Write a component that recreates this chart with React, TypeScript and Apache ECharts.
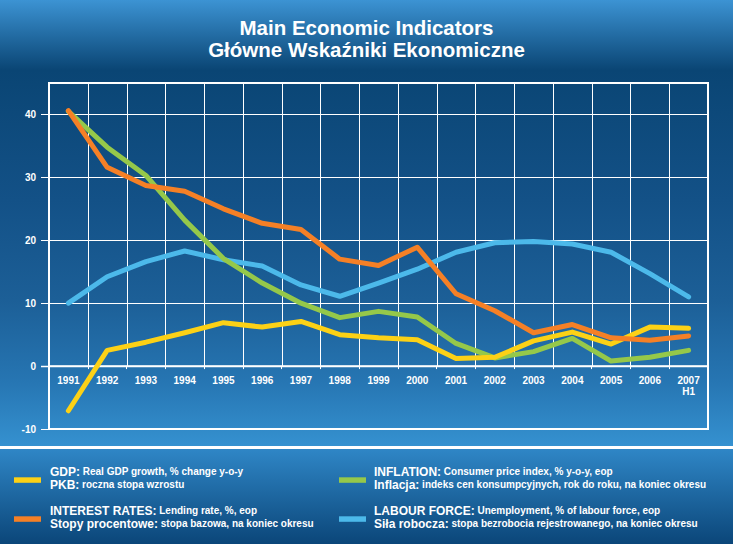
import React, { useEffect, useRef } from "react";
import * as echarts from "echarts";

// ---- data ----
const years = ["1991", "1992", "1993", "1994", "1995", "1996", "1997", "1998", "1999", "2000", "2001", "2002", "2003", "2004", "2005", "2006", "2007\nH1"];
const gdp = [-7.1, 2.5, 3.8, 5.3, 6.9, 6.2, 7.1, 5.0, 4.5, 4.2, 1.2, 1.4, 4.0, 5.4, 3.5, 6.2, 6.0];
const inflation = [40.5, 34.8, 30.3, 23.2, 17.1, 13.2, 10.0, 7.7, 8.7, 7.8, 3.6, 1.3, 2.3, 4.4, 0.8, 1.4, 2.5];
const interestRates = [40.6, 31.6, 28.7, 27.8, 25.0, 22.7, 21.7, 17.0, 16.0, 18.9, 11.5, 8.8, 5.3, 6.6, 4.5, 4.1, 4.8];
const unemployment = [10.0, 14.2, 16.6, 18.3, 16.9, 15.9, 12.9, 11.1, 13.2, 15.4, 18.1, 19.6, 19.8, 19.4, 18.1, 14.7, 11.0];
const yTicks = [-10, 0, 10, 20, 30, 40];
const yMin = -10;
const yMax = 45;

const titleLines = ["Main Economic Indicators", "Główne Wskaźniki Ekonomiczne"];

const legendGdp = [["GDP:", " Real GDP growth, % change y-o-y"], ["PKB:", " roczna stopa wzrostu"]];
const legendRates = [["INTEREST RATES:", " Lending rate, %, eop"], ["Stopy procentowe:", " stopa bazowa, na koniec okresu"]];
const legendInflation = [["INFLATION:", " Consumer price index, % y-o-y, eop"], ["Inflacja:", " indeks cen konsumpcyjnych, rok do roku, na koniec okresu"]];
const legendLabour = [["LABOUR FORCE:", " Unemployment, % of labour force, eop"], ["Siła robocza:", " stopa bezrobocia rejestrowanego, na koniec okresu"]];

// ---- styles / layout ----
const YELLOW = "#fcd116";
const GREEN = "#95c84a";
const ORANGE = "#f58026";
const BLUE = "#4cb9ea";
const FONT = '"Liberation Sans", Arial, Helvetica, sans-serif';
const W = 733;
const H = 544;
const GRID_TOP = 83;
const GRID_BOTTOM = 115;
const GRID_LEFT = 49;
const GRID_RIGHT = 25;
const PLOT_H = H - GRID_TOP - GRID_BOTTOM;
const X_AXIS_OFFSET = -((0 - yMin) / (yMax - yMin)) * PLOT_H;

function legendBlock(lines: string[][], color: string, x: number, y: number, markerX: number) {
  const els: any[] = [
    {
      type: "rect",
      shape: { x: markerX, y: y + 5.5, width: 27, height: 5.5 },
      style: { fill: color },
    },
  ];
  lines.forEach((ln, i) => {
    els.push({
      type: "text",
      x,
      y: y + i * 13,
      style: {
        text: `{h|${ln[0]}}{t|${ln[1]}}`,
        fill: "#fff",
        align: "left",
        verticalAlign: "middle",
        rich: {
          h: { fontSize: 12, fontWeight: "bold", fontFamily: FONT, fill: "#fff", lineHeight: 14 },
          t: { fontSize: 10, fontWeight: "bold", fontFamily: FONT, fill: "#fff", lineHeight: 14 },
        },
      },
    });
  });
  return els;
}

export default function App() {
  const ref = useRef<HTMLDivElement>(null);
  useEffect(() => {
    if (!ref.current) return;
    const chart = echarts.init(ref.current, undefined, { renderer: "svg" });
    const lineSeries = (name: string, data: number[], color: string) => ({
      name,
      type: "line",
      data,
      symbol: "none",
      showSymbol: false,
      z: 3,
      lineStyle: { color, width: 5, cap: "round", join: "round" },
      itemStyle: { color },
    });
    chart.setOption({
      animation: false,
      backgroundColor: "transparent",
      grid: {
        left: GRID_LEFT,
        right: GRID_RIGHT,
        top: GRID_TOP,
        bottom: GRID_BOTTOM,
        show: true,
        borderColor: "#ffffff",
        borderWidth: 2,
        backgroundColor: "transparent",
        containLabel: false,
      },
      xAxis: {
        type: "category",
        data: years,
        boundaryGap: true,
        position: "bottom",
        offset: X_AXIS_OFFSET,
        axisLine: { onZero: false, lineStyle: { color: "#ffffff", width: 1.5 } },
        axisTick: { show: true, length: 3, lineStyle: { color: "#ffffff", width: 1 } },
        axisLabel: {
          interval: 0,
          color: "#ffffff",
          fontSize: 10,
          fontWeight: "bold",
          fontFamily: FONT,
          margin: 9,
          lineHeight: 11,
        },
        splitLine: { show: false },
      },
      yAxis: {
        type: "value",
        min: yMin,
        max: yMax,
        interval: 10,
        axisLine: { show: false },
        axisTick: { show: false },
        axisLabel: {
          customValues: yTicks,
          color: "#ffffff",
          fontSize: 10,
          fontWeight: "bold",
          fontFamily: FONT,
          margin: 13,
        },
        splitLine: { show: false },
      },
      series: [
        {
          type: "custom",
          silent: true,
          clip: false,
          z: 1,
          data: years.slice(1).map((_, i) => [i, 0]),
          renderItem: (params: any, api: any) => {
            const i = api.value(0);
            const top = api.coord([i, yMax]);
            const zero = api.coord([i, 0]);
            const w = api.size([1, 0])[0];
            const x = Math.round(top[0] + w / 2) + 0.5;
            return {
              type: "line",
              shape: { x1: x, y1: top[1], x2: x, y2: zero[1] },
              style: { stroke: "#ffffff", lineWidth: 1 },
            };
          },
        },
        {
          type: "custom",
          silent: true,
          clip: false,
          z: 1,
          data: yTicks.map((v) => [0, v]),
          renderItem: (params: any, api: any) => {
            const v = api.value(1);
            const p = api.coord([0, v]);
            const cs = params.coordSys;
            const y = Math.round(p[1]) + 0.5;
            return {
              type: "line",
              shape: { x1: cs.x - 8, y1: y, x2: cs.x + cs.width, y2: y },
              style: { stroke: "#ffffff", lineWidth: v === 0 ? 1.5 : 1 },
            };
          },
        },
        lineSeries("LABOUR FORCE", unemployment, BLUE),
        lineSeries("INFLATION", inflation, GREEN),
        lineSeries("GDP", gdp, YELLOW),
        lineSeries("INTEREST RATES", interestRates, ORANGE),
      ],
      graphic: [
        ...titleLines.map((t, i) => ({
          type: "text",
          x: W / 2,
          y: 27 + i * 22,
          style: {
            text: t,
            fill: "#ffffff",
            fontSize: 20.5,
            fontWeight: "bold",
            fontFamily: FONT,
            align: "center",
            verticalAlign: "middle",
          },
        })),
        ...legendBlock(legendGdp, YELLOW, 50, 471.8, 14),
        ...legendBlock(legendRates, ORANGE, 50, 510.8, 14),
        ...legendBlock(legendInflation, GREEN, 374, 471.8, 339),
        ...legendBlock(legendLabour, BLUE, 374, 510.8, 339),
      ],
    });
    return () => chart.dispose();
  }, []);

  return (
    <div
      style={{
        position: "absolute",
        left: 0,
        top: 0,
        width: W,
        height: H,
        background:
          "linear-gradient(to bottom, #3c93d3 0px, #0a4574 70px, #135187 200px, #1c5f97 300px, #2675b2 380px, #3591d0 446px, #ffffff 446px, #ffffff 449px, #2f86c6 449px, #0b4679 544px)",
      }}
    >
      <div ref={ref} style={{ width: W, height: H }} />
    </div>
  );
}
